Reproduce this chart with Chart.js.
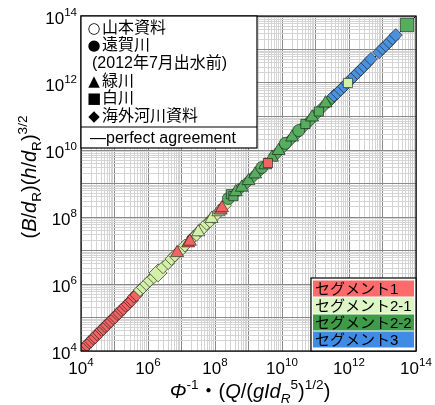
<!DOCTYPE html>
<html>
<head>
<meta charset="utf-8">
<script src="https://cdn.jsdelivr.net/npm/chart.js@4.4.1/dist/chart.umd.min.js"></script>
<style>
  html, body { margin: 0; padding: 0; background: #fff; }
  #chart { display: block; }
</style>
</head>
<body>
<canvas id="chart" width="435" height="405"></canvas>
<script>
// marker codes: d = diamond, D = large diamond, s = square, S = large square, t = triangle, c = circle
const seg1X = [1.0e4, 1.15e4, 1.32e4, 1.51e4, 1.74e4, 2.0e4, 2.29e4, 2.63e4, 3.0e4, 3.55e4, 4.07e4, 4.68e4, 5.25e4, 6.0e4, 6.9e4,
  7.9e4, 9.1e4, 1.05e5, 1.2e5, 1.38e5, 1.58e5, 1.86e5, 2.14e5, 2.5e5, 2.9e5, 3.3e5, 3.8e5, 4.5e5,
  7.4e6, 1.58e7, 1.78e7, 1.48e8, 1.62e8, 3.8e9];
const seg1Y = [1.0e4, 1.12e4, 1.35e4, 1.48e4, 1.82e4, 1.95e4, 2.4e4, 2.57e4, 3.16e4, 3.47e4, 4.27e4, 4.57e4, 5.5e4, 5.9e4, 7.2e4,
  7.8e4, 9.5e4, 1.02e5, 1.26e5, 1.35e5, 1.66e5, 1.82e5, 2.24e5, 2.45e5, 3.0e5, 3.24e5, 4.2e5, 4.7e5,
  8.5e6, 1.66e7, 1.86e7, 1.58e8, 1.86e8, 4.07e9];
const seg1Mark = ['d','d','d','d','d','d','d','d','d','d','d','d','d','d','d',
  'd','d','d','d','d','d','d','d','d','d','d','d','d',
  't','t','t','t','t','s'];

const seg21X = [5.75e5, 7.1e5, 8.9e5, 1.12e6, 1.5e6, 2.0e6, 2.8e6, 4.0e6, 5.0e6, 6.3e6, 1.0e7, 1.26e7, 2.24e7, 2.8e7, 3.55e7,
  4.5e7, 5.6e7, 7.1e7, 8.9e7, 1.12e8, 2.0e8, 3.16e7, 7.9e7, 1.26e8, 9.3e11];
const seg21Y = [6.6e5, 7.9e5, 1.0e6, 1.26e6, 1.6e6, 2.14e6, 3.16e6, 4.2e6, 5.6e6, 7.1e6, 1.05e7, 1.41e7, 2.5e7, 2.95e7, 4.0e7,
  4.7e7, 6.3e7, 7.4e7, 1.0e8, 1.2e8, 2.24e8, 3.55e7, 8.9e7, 1.41e8, 1.0e12];
const seg21Mark = ['d','d','d','d','d','D','d','d','d','d','d','d','d','d','d',
  'd','d','d','d','d','d','t','t','t','s'];

const seg22X = [2.5e8, 3.0e8, 3.55e8, 4.2e8, 5.0e8, 6.3e8, 7.9e8, 1.0e9, 1.26e9, 1.58e9, 2.0e9, 2.5e9, 3.16e9, 5.0e9,
  6.3e9, 7.9e9, 1.0e10, 1.26e10, 1.58e10, 2.0e10, 2.5e10, 3.16e10, 4.0e10, 5.0e10, 6.3e10, 7.9e10, 1.0e11,
  1.26e11, 1.58e11, 2.0e11, 2.5e11, 3.16e11, 5.4e13];
const seg22Y = [3.55e8, 4.8e8, 4.2e8, 5.6e8, 6.3e8, 7.6e8, 9.5e8, 1.2e9, 1.45e9, 1.9e9, 2.24e9, 3.0e9, 3.55e9, 6.0e9,
  7.1e9, 9.5e9, 1.12e10, 1.58e10, 1.78e10, 2.4e10, 2.8e10, 3.8e10, 4.5e10, 6.0e10, 6.9e10, 9.5e10, 1.12e11,
  1.41e11, 1.82e11, 2.5e11, 2.8e11, 3.55e11, 5.4e13];
const seg22Mark = ['c','s','s','t','d','t','d','t','d','t','d','c','t','t',
  'd','t','d','c','d','t','d','c','d','s','d','t','d',
  's','d','t','d','d','S'];

const seg3X = [3.55e11, 4.5e11, 5.6e11, 7.1e11, 8.9e11, 1.12e12, 1.41e12, 1.78e12, 2.24e12, 2.8e12, 3.55e12, 4.5e12,
  7.9e12, 1.0e13, 1.26e13, 1.58e13, 2.0e13, 2.5e13];
const seg3Y = [4.2e11, 5.0e11, 6.3e11, 7.9e11, 1.0e12, 1.26e12, 1.58e12, 2.0e12, 2.5e12, 3.16e12, 4.0e12, 5.2e12,
  8.3e12, 1.07e13, 1.32e13, 1.66e13, 2.14e13, 2.7e13];
const seg3Mark = ['d','d','d','d','d','d','d','d','d','d','d','d',
  'd','d','d','d','d','d'];

const lineX = [1e4, 1e14];
const lineY = [1e4, 1e14];

const tickPowers = [4, 6, 8, 10, 12, 14];
const segNames = ['セグメント1', 'セグメント2-1', 'セグメント2-2', 'セグメント3'];
const dataNames = [
  { sym: '○', text: '山本資料' },
  { sym: '●', text: '遠賀川' },
  { sym: '', text: '(2012年7月出水前)' },
  { sym: '▲', text: '緑川' },
  { sym: '■', text: '白川' },
  { sym: '◆', text: '海外河川資料' }
];

const segFill = ['#f26464', '#d2f0a8', '#55ad5e', '#4b92de'];
const segBox = ['#ff6a6a', '#def6c6', '#3e9b47', '#3f8ce6'];
const markStyle = { d: 'rectRot', D: 'rectRot', s: 'rect', S: 'rect', t: 'triangle', c: 'circle' };
const markRadius = { d: 6.5, D: 9, s: 6.5, S: 9.5, t: 7.5, c: 6 };

const FONT = '"Liberation Sans", Arial, "Noto Sans CJK JP", sans-serif';

function makeSet(xs, ys, marks, color, wantDiamond) {
  const pts = [], styles = [], radii = [];
  xs.forEach((x, i) => {
    const isDiamond = marks[i] === 'd' || marks[i] === 'D';
    if (isDiamond !== wantDiamond) return;
    pts.push({ x: x, y: ys[i] });
    styles.push(markStyle[marks[i]]);
    radii.push(markRadius[marks[i]]);
  });
  return {
    data: pts,
    pointStyle: styles,
    pointRadius: radii,
    pointHoverRadius: radii,
    pointBackgroundColor: color,
    pointBorderColor: 'rgba(30,30,30,0.8)',
    pointBorderWidth: 0.8
  };
}

const segs = [
  [seg1X, seg1Y, seg1Mark],
  [seg21X, seg21Y, seg21Mark],
  [seg22X, seg22Y, seg22Mark],
  [seg3X, seg3Y, seg3Mark]
];

// first dataset is painted last (on top)
const datasets = [];
segs.forEach((s, i) => datasets.push(makeSet(s[0], s[1], s[2], segFill[i], false)));
[3, 2, 1, 0].forEach(i => datasets.push(makeSet(segs[i][0], segs[i][1], segs[i][2], segFill[i], true)));
datasets.push({
  data: lineX.map((x, i) => ({ x: x, y: lineY[i] })),
  showLine: true,
  borderColor: '#000',
  borderWidth: 1,
  pointRadius: 0
});

function isDecade(v) {
  const l = Math.log10(v);
  return Math.abs(l - Math.round(l)) < 1e-6;
}

function logTicks(scale) {
  const t = [];
  for (let e = 4; e < 14; e++) {
    for (let m = 1; m <= 9; m++) t.push({ value: m * Math.pow(10, e) });
  }
  t.push({ value: 1e14 });
  scale.ticks = t;
}

const gridOpts = {
  color: c => (c.tick && isDecade(c.tick.value)) ? '#8a8a8a' : '#d4d4d4',
  lineWidth: 1,
  drawTicks: false
};

// draws runs of text with italic / superscript / subscript parts
function richWidth(ctx, parts, size) {
  let w = 0;
  parts.forEach(p => {
    const s = p.pos ? size * 0.68 : size;
    ctx.font = (p.it ? 'italic ' : '') + s + 'px ' + FONT;
    w += ctx.measureText(p.t).width;
  });
  return w;
}
function richDraw(ctx, parts, x, y, size) {
  parts.forEach(p => {
    const s = p.pos ? size * 0.68 : size;
    ctx.font = (p.it ? 'italic ' : '') + s + 'px ' + FONT;
    const dy = p.pos === 'sup' ? -size * 0.45 : p.pos === 'sub' ? size * 0.25 : 0;
    ctx.fillText(p.t, x, y + dy);
    x += ctx.measureText(p.t).width;
  });
}

const yTitle = [
  { t: '(' }, { t: 'B', it: 1 }, { t: '/' }, { t: 'd', it: 1 }, { t: 'R', pos: 'sub' }, { t: ')(' },
  { t: 'h', it: 1 }, { t: '/' }, { t: 'd', it: 1 }, { t: 'R', pos: 'sub' }, { t: ')' }, { t: '3/2', pos: 'sup' }
];
const xTitle = [
  { t: 'Φ', it: 1 }, { t: '-1', pos: 'sup' }, { t: '・(' }, { t: 'Q', it: 1 }, { t: '/(' }, { t: 'gId', it: 1 },
  { t: 'R', it: 1, pos: 'sub' }, { t: '5', pos: 'sup' }, { t: ')' }, { t: '1/2', pos: 'sup' }, { t: ')' }
];

const decor = {
  id: 'decor',
  afterDraw(chart) {
    const ctx = chart.ctx;
    const a = chart.chartArea;
    const xs = chart.scales.x, ys = chart.scales.y;
    ctx.save();
    ctx.fillStyle = '#000';
    ctx.textBaseline = 'alphabetic';

    // frame
    ctx.strokeStyle = '#000';
    ctx.lineWidth = 1.2;
    ctx.strokeRect(a.left, a.top, a.right - a.left, a.bottom - a.top);

    // tick labels 10^n
    tickPowers.forEach(p => {
      const base = [{ t: '10' }, { t: String(p), pos: 'sup' }];
      const w = richWidth(ctx, base, 17);
      const px = xs.getPixelForValue(Math.pow(10, p));
      richDraw(ctx, base, px - w / 2, a.bottom + 23, 17);
      const py = ys.getPixelForValue(Math.pow(10, p));
      richDraw(ctx, base, a.left - 4 - w, py + 8, 17);
    });

    // axis titles
    const tw = richWidth(ctx, xTitle, 20);
    richDraw(ctx, xTitle, 250 - tw / 2, 398, 20);
    const yw = richWidth(ctx, yTitle, 20);
    ctx.save();
    ctx.translate(36, 177);
    ctx.rotate(-Math.PI / 2);
    richDraw(ctx, yTitle, -yw / 2, 0, 20);
    ctx.restore();

    // data source legend
    const lx = a.left, ly = a.top, lw = 176, lh = 132;
    ctx.fillStyle = '#fff';
    ctx.fillRect(lx, ly, lw, lh);
    ctx.strokeStyle = '#000';
    ctx.lineWidth = 1.2;
    ctx.strokeRect(lx, ly, lw, lh);
    ctx.beginPath();
    ctx.moveTo(lx, ly + 111);
    ctx.lineTo(lx + lw, ly + 111);
    ctx.stroke();
    ctx.fillStyle = '#000';
    const rowY = [33, 50, 68, 86, 103, 121];
    dataNames.forEach((d, i) => {
      if (d.sym) {
        ctx.font = '15px "DejaVu Sans"';
        ctx.textAlign = 'center';
        ctx.fillText(d.sym, lx + 13, rowY[i] - 0.5);
      }
      ctx.textAlign = 'left';
      ctx.font = '16px ' + FONT;
      ctx.fillText(d.text, lx + (d.sym ? 21 : 11), rowY[i]);
    });
    ctx.font = '16px ' + FONT;
    ctx.fillText('—perfect agreement', lx + 9, ly + 127);

    // segment legend
    const bx = 311, by = 278, bw = a.right - 311, bh = a.bottom - 278;
    ctx.fillStyle = '#fff';
    ctx.fillRect(bx, by, bw, bh);
    segNames.forEach((n, i) => {
      ctx.fillStyle = segBox[i];
      ctx.fillRect(bx + 2, by + 2.5 + i * 17, bw - 4, 16);
      ctx.fillStyle = '#000';
      ctx.font = '15px ' + FONT;
      ctx.fillText(n, bx + 4, by + 16 + i * 17);
    });
    ctx.strokeStyle = '#000';
    ctx.lineWidth = 1.2;
    ctx.strokeRect(bx, by, bw, bh);
    ctx.restore();
  }
};

new Chart(document.getElementById('chart'), {
  type: 'scatter',
  data: { datasets: datasets },
  options: {
    responsive: false,
    animation: false,
    devicePixelRatio: 1,
    layout: { padding: { left: 81, top: 16, right: 19, bottom: 54 } },
    plugins: { legend: { display: false }, tooltip: { enabled: false } },
    scales: {
      x: {
        type: 'logarithmic', min: 1e4, max: 1e14,
        afterBuildTicks: logTicks,
        ticks: { display: false },
        grid: gridOpts,
        border: { display: false }
      },
      y: {
        type: 'logarithmic', min: 1e4, max: 1e14,
        afterBuildTicks: logTicks,
        ticks: { display: false },
        grid: gridOpts,
        border: { display: false }
      }
    }
  },
  plugins: [decor]
});
</script>
</body>
</html>
